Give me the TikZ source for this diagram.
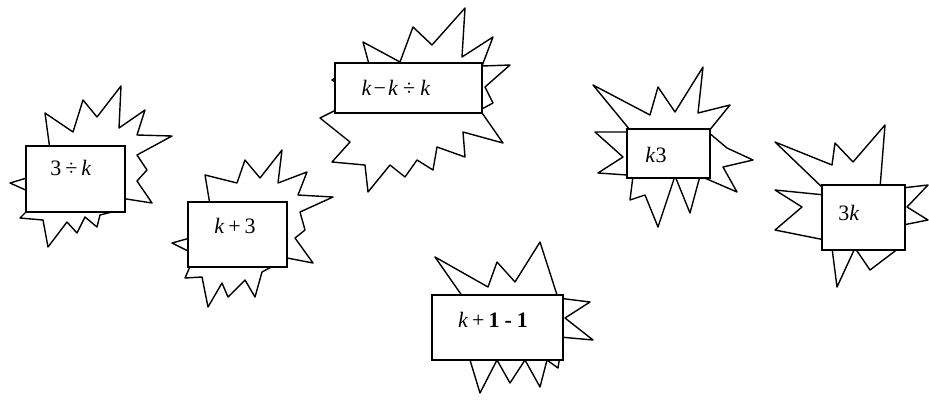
\documentclass[tikz,border=0pt]{standalone}
\usepackage{fontspec}
\setmainfont{Liberation Serif}
\newcommand\mygap[1]{\hspace{#1pt}}
\begin{document}
\begin{tikzpicture}[x=1pt,y=-1pt,
  burst/.style={draw=black,line width=1.4pt,fill=white,line join=round},
  box/.style={draw=black,line width=2.2pt,fill=white,rectangle,inner sep=0pt},
  lbl/.style={font=\fontsize{22}{26}\selectfont,inner sep=0pt}]
\useasboundingbox (0,0) rectangle (929,400);
% burst 1
\draw[burst] (50,150)--(45,113)--(73,132)--(83,100)--(97,117)--(121,86)--(119,128)--(145,110)--(137,135)--(172,136)--(137,155)--(147,170)--(137,181)--(152,203)--(120,198)--(120,210)--(100,215)--(97,227)--(85,217)--(77,233)--(67,222)--(48,247)--(43,220)--(20,218)--(30,208)--(30,192)--(10,183)--(30,177)--(30,150)--cycle;
\node[box,minimum width=99pt,minimum height=66pt] (b1) at (75.5,179) {};
\node[lbl] (t1) at (71,168) {3\mygap{4}÷\mygap{4}\textit{k}};
% burst 2
\draw[burst] (210,205)--(205,175)--(237,183)--(245,160)--(260,178)--(282,150)--(278,183)--(307,172)--(298,195)--(333,197)--(300,212)--(305,230)--(295,238)--(313,263)--(282,257)--(275,265)--(262,272)--(255,297)--(245,280)--(228,297)--(222,283)--(208,307)--(202,277)--(185,278)--(192,262)--(190,252)--(172,243)--(190,238)--(190,210)--cycle;
\node[box,minimum width=99pt,minimum height=65pt] (b2) at (237.5,234.5) {};
\node[lbl] (t2) at (235,226) {\textit{k}\mygap{4}+\mygap{4}3};
% burst 3
\draw[burst] (370,68)--(363,42)--(400,62)--(413,27)--(432,45)--(465,8)--(462,57)--(493,37)--(482,66)--(510,65)--(485,87)--(493,103)--(480,110)--(503,143)--(463,132)--(465,157)--(437,147)--(433,170)--(417,160)--(405,177)--(390,165)--(368,192)--(365,165)--(332,162)--(350,142)--(320,118)--(340,108)--(340,85)--(332,80)--(340,75)--cycle;
\node[box,minimum width=147pt,minimum height=50pt] (b3) at (408.5,88) {};
\node[lbl] (t3) at (396,88) {\textit{k}\mygap{2}−\mygap{2}\textit{k}\mygap{5}÷\mygap{5}\textit{k}};
% burst 4
\draw[burst] (630,130)--(593,85)--(650,115)--(658,87)--(675,112)--(703,67)--(698,113)--(730,105)--(708,132)--(727,148)--(753,160)--(723,167)--(737,192)--(700,176)--(690,213)--(675,176)--(658,227)--(645,195)--(630,200)--(633,176)--(627,175)--(598,173)--(623,157)--(595,132)--(628,132)--cycle;
\node[box,minimum width=83pt,minimum height=49pt] (b4) at (668.5,153.5) {};
\node[lbl] (t4) at (656,155) {\textit{k}3};
% burst 5
\draw[burst] (825,190)--(775,142)--(832,165)--(835,143)--(853,162)--(885,125)--(880,188)--(902,188)--(928,185)--(907,207)--(928,220)--(903,225)--(903,245)--(870,270)--(855,248)--(837,287)--(832,248)--(825,240)--(775,230)--(802,207)--(775,190)--(825,195)--cycle;
\node[box,minimum width=83pt,minimum height=65pt] (b5) at (863.5,217.5) {};
\node[lbl] (t5) at (849,213) {3\textit{k}};
% burst 6
\draw[burst] (465,300)--(435,257)--(488,287)--(497,262)--(515,282)--(540,242)--(558,298)--(590,302)--(565,318)--(593,340)--(560,337)--(560,355)--(558,368)--(547,360)--(540,387)--(525,360)--(510,383)--(497,360)--(480,393)--(470,360)--(465,355)--cycle;
\node[box,minimum width=131pt,minimum height=65pt] (b6) at (497.5,327.5) {};
\node[lbl] (t6) at (493,320) {\textit{k}\mygap{4}+\mygap{4}\textbf{1\mygap{5}-\mygap{5}1}};
\end{tikzpicture}
\end{document}
